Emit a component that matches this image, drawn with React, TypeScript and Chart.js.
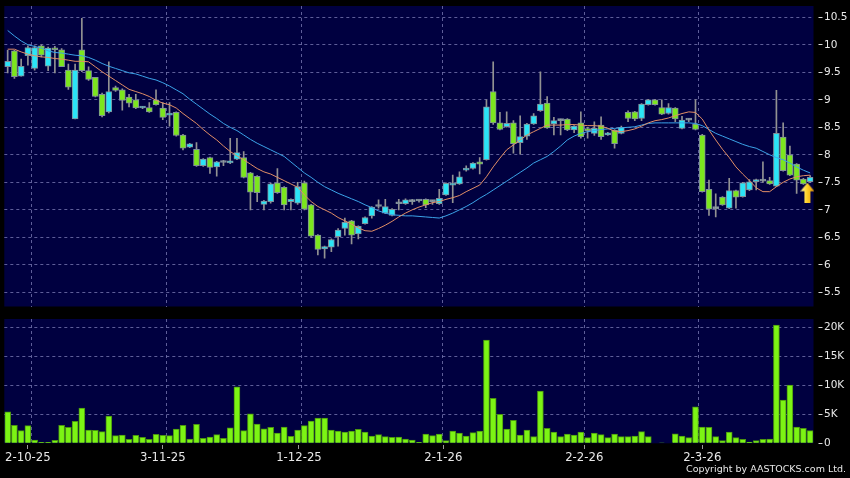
import React, { useEffect, useRef } from 'react';
import { Chart, registerables } from 'chart.js';

Chart.register(...registerables);

// ---------- data ----------
const opens = [
  9.60, 9.89, 9.43, 9.80, 9.57, 9.98, 9.61, 9.94, 9.91, 9.54,
  8.65, 9.91, 9.53, 9.41, 9.10, 8.78, 9.22, 9.18, 9.05, 9.00,
  8.85, 8.86, 9.00, 8.85, 8.72, 8.77, 8.36, 8.14, 8.10, 7.80,
  7.95, 7.78, 7.86, 7.85, 7.92, 7.95, 7.67, 7.61, 7.10, 7.15,
  7.49, 7.41, 7.15, 7.12, 7.49, 7.09, 6.54, 6.29, 6.32, 6.51,
  6.66, 6.80, 6.56, 6.75, 6.89, 7.06, 6.94, 6.90, 7.11, 7.11,
  7.15, 7.16, 7.19, 7.15, 7.11, 7.27, 7.45, 7.47, 7.72, 7.75,
  7.87, 7.91, 9.15, 8.58, 8.51, 8.58, 8.22, 8.34, 8.56, 8.80,
  8.94, 8.56, 8.62, 8.65, 8.45, 8.58, 8.46, 8.39, 8.54, 8.36,
  8.45, 8.39, 8.77, 8.78, 8.66, 8.91, 9.00, 8.86, 8.75, 8.85,
  8.48, 8.63, 8.56, 8.36, 7.37, 7.02, 7.23, 7.03, 7.35, 7.24,
  7.36, 7.51, 7.52, 7.53, 7.43, 8.32, 8.00, 7.83, 7.56, 7.51,
];
const closes = [
  9.70, 9.42, 9.61, 9.95, 9.95, 9.81, 9.94, 9.91, 9.60, 9.23,
  9.54, 9.53, 9.37, 9.06, 8.71, 9.15, 9.17, 8.99, 8.94, 8.85,
  8.87, 8.78, 8.91, 8.68, 8.74, 8.35, 8.12, 8.20, 7.80, 7.92,
  7.77, 7.87, 7.86, 7.89, 8.04, 7.59, 7.32, 7.31, 7.16, 7.47,
  7.31, 7.09, 7.19, 7.42, 7.01, 6.52, 6.28, 6.33, 6.46, 6.63,
  6.77, 6.54, 6.70, 6.86, 7.05, 7.06, 7.06, 7.01, 7.11, 7.18,
  7.15, 7.16, 7.09, 7.15, 7.21, 7.48, 7.47, 7.60, 7.75, 7.85,
  7.83, 8.87, 8.58, 8.46, 8.57, 8.20, 8.33, 8.56, 8.71, 8.92,
  8.49, 8.62, 8.62, 8.45, 8.52, 8.33, 8.44, 8.48, 8.33, 8.40,
  8.20, 8.50, 8.66, 8.65, 8.92, 9.00, 8.91, 8.74, 8.86, 8.65,
  8.63, 8.63, 8.46, 7.33, 7.01, 7.02, 7.09, 7.35, 7.23, 7.49,
  7.51, 7.55, 7.52, 7.47, 8.39, 7.71, 7.63, 7.54, 7.47, 7.59,
];
const highs = [
  9.90, 9.90, 9.74, 9.98, 9.98, 10.00, 9.96, 9.97, 9.93, 9.65,
  9.65, 10.48, 9.60, 9.41, 9.12, 9.69, 9.25, 9.20, 9.10, 9.10,
  8.88, 8.95, 9.18, 8.95, 8.95, 8.78, 8.37, 8.21, 8.22, 7.93,
  7.96, 7.88, 7.90, 8.30, 8.30, 8.06, 7.68, 7.62, 7.17, 7.48,
  7.75, 7.42, 7.20, 7.50, 7.52, 7.10, 6.55, 6.34, 6.47, 6.66,
  6.85, 6.81, 6.71, 6.87, 7.06, 7.18, 7.19, 7.02, 7.19, 7.20,
  7.19, 7.18, 7.20, 7.17, 7.37, 7.49, 7.63, 7.69, 7.80, 7.86,
  7.95, 9.00, 9.69, 8.77, 8.78, 8.62, 8.71, 8.57, 8.75, 9.51,
  9.06, 8.68, 8.65, 8.66, 8.53, 8.78, 8.50, 8.60, 8.69, 8.41,
  8.46, 8.52, 8.80, 8.79, 8.93, 9.01, 9.01, 9.00, 8.93, 8.86,
  8.70, 8.66, 9.00, 8.37, 7.54, 7.29, 7.24, 7.57, 7.36, 7.50,
  7.55, 7.56, 7.87, 7.59, 9.17, 8.58, 8.16, 7.84, 7.57, 7.62,
];
const lows = [
  9.49, 9.39, 9.43, 9.63, 9.54, 9.78, 9.53, 9.49, 9.60, 9.19,
  8.65, 9.51, 9.35, 9.05, 8.69, 8.76, 9.15, 8.81, 8.87, 8.84,
  8.84, 8.77, 8.90, 8.64, 8.52, 8.34, 8.09, 8.13, 7.79, 7.79,
  7.66, 7.61, 7.80, 7.84, 7.91, 7.58, 7.00, 7.15, 7.00, 7.12,
  7.30, 7.00, 7.00, 7.10, 7.00, 6.50, 6.18, 6.12, 6.24, 6.34,
  6.54, 6.38, 6.47, 6.74, 6.85, 7.03, 6.93, 6.89, 7.00, 7.10,
  7.10, 7.14, 7.04, 7.10, 7.10, 7.26, 7.13, 7.46, 7.70, 7.74,
  7.65, 7.90, 8.55, 8.45, 8.50, 8.03, 8.01, 8.28, 8.55, 8.79,
  8.48, 8.36, 8.36, 8.44, 8.40, 8.30, 8.30, 8.35, 8.28, 8.35,
  8.12, 8.38, 8.60, 8.62, 8.62, 8.90, 8.90, 8.73, 8.74, 8.60,
  8.47, 8.60, 8.45, 7.32, 6.90, 6.87, 7.08, 7.02, 7.03, 7.23,
  7.35, 7.36, 7.50, 7.46, 7.42, 7.70, 7.62, 7.30, 7.46, 7.50,
];
const volumes = [
  5400, 3100, 2170, 3030, 570, 170, 170, 520, 3100, 2750,
  3780, 6070, 2290, 2230, 2000, 4700, 1310, 1430, 690, 1380,
  1030, 690, 1550, 1380, 1310, 2460, 3100, 720, 3270, 860,
  1080, 1480, 860, 2680, 9740, 2170, 5090, 3320, 2510, 2750,
  1770, 2810, 1200, 2290, 3030, 3840, 4350, 4350, 2290, 2120,
  1940, 2120, 2410, 1940, 1260, 1480, 1140, 1030, 1080, 740,
  570, 170, 1600, 1310, 1600, 450, 2120, 1770, 1260, 1830,
  2120, 17770, 7740, 4990, 2460, 3960, 1430, 2290, 1140, 9000,
  2580, 1940, 1140, 1600, 1430, 1940, 980, 1770, 1480, 980,
  1600, 1140, 1140, 1260, 2000, 1140, 0, 100, 0, 1650,
  1260, 980, 6300, 2810, 2750, 1140, 450, 1940, 980, 690,
  230, 450, 690, 720, 20350, 7450, 10030, 2810, 2580, 2170,
];
const maShort = [
  9.92, 9.92, 9.87, 9.83, 9.80, 9.78, 9.77, 9.75, 9.74, 9.72,
  9.70, 9.70, 9.69, 9.60, 9.51, 9.43, 9.35, 9.27, 9.19, 9.15,
  9.11, 9.06, 8.99, 8.94, 8.91, 8.85, 8.75, 8.66, 8.57, 8.46,
  8.36, 8.27, 8.16, 8.06, 7.98, 7.91, 7.83, 7.75, 7.69, 7.65,
  7.59, 7.53, 7.47, 7.41, 7.27, 7.15, 7.06, 7.00, 6.94, 6.86,
  6.80, 6.74, 6.67, 6.62, 6.61, 6.66, 6.72, 6.79, 6.87, 6.94,
  7.00, 7.05, 7.09, 7.13, 7.15, 7.19, 7.22, 7.26, 7.33, 7.39,
  7.45, 7.60, 7.78, 7.94, 8.09, 8.18, 8.27, 8.36, 8.42, 8.48,
  8.54, 8.54, 8.54, 8.55, 8.55, 8.54, 8.53, 8.53, 8.52, 8.48,
  8.43, 8.42, 8.44, 8.47, 8.52, 8.58, 8.62, 8.64, 8.67, 8.71,
  8.75, 8.78, 8.77, 8.65, 8.45, 8.27, 8.10, 7.95, 7.78, 7.65,
  7.53, 7.40, 7.33, 7.33, 7.42, 7.50, 7.56, 7.60, 7.62, 7.63,
];
const maLong = [
  10.26, 10.16, 10.07, 10.00, 9.97, 9.94, 9.89, 9.86, 9.85, 9.83,
  9.81, 9.80, 9.77, 9.72, 9.66, 9.61, 9.57, 9.53, 9.49, 9.47,
  9.43, 9.39, 9.36, 9.31, 9.25, 9.18, 9.11, 9.01, 8.92, 8.83,
  8.74, 8.66, 8.57, 8.50, 8.44, 8.36, 8.28, 8.21, 8.15, 8.09,
  8.03, 7.97, 7.87, 7.77, 7.67, 7.59, 7.50, 7.42, 7.36, 7.30,
  7.25, 7.20, 7.15, 7.09, 7.04, 6.98, 6.94, 6.91, 6.90, 6.89,
  6.89, 6.88, 6.87, 6.86, 6.85, 6.89, 6.94, 7.00, 7.06, 7.13,
  7.21, 7.28, 7.36, 7.44, 7.52, 7.60, 7.68, 7.76, 7.85, 7.91,
  7.97, 8.06, 8.16, 8.27, 8.34, 8.39, 8.42, 8.44, 8.46, 8.47,
  8.48, 8.49, 8.50, 8.51, 8.54, 8.57, 8.58, 8.58, 8.58, 8.58,
  8.58, 8.58, 8.57, 8.53, 8.46, 8.39, 8.34, 8.29, 8.24, 8.19,
  8.15, 8.12, 8.06, 8.00, 7.95, 7.91, 7.85, 7.78, 7.72, 7.67,
];
const priceTicks = [5.5, 6, 6.5, 7, 7.5, 8, 8.5, 9, 9.5, 10, 10.5];
const volumeTicks = [0, 5000, 10000, 15000, 20000];
const dateLabels = ['2-10-25', '3-11-25', '1-12-25', '2-1-26', '2-2-26', '2-3-26'];
const dateLabelIdx = [3, 23, 43.2, 64.6, 85.5, 103];
const dateGridIdx = [3.5, 23.5, 43.5, 64.5, 85.5, 102.5];
const arrowMark = { index: 118.6, price: 7.31 };

// ---------- styles ----------
const NAVY = '#000040';
const GRID = 'rgba(118,118,175,0.8)';
const UP = '#2BE4F6';
const DOWN = '#7CE61E';
const FLAT = '#9aa4a8';
const BODY_BORDER = '#80909a';
const WICK = '#929292';
const VOL_FILL = '#7CF414';
const VOL_BORDER = '#4A9410';
const LINE_SHORT = '#E28E66';
const LINE_LONG = '#3BA3E8';
const TEXT = '#e8e8e8';
const FONT = 'DejaVu Sans';
const N = closes.length;

const bgPlugin = {
  id: 'panelBg',
  beforeDraw(chart: any) {
    const { ctx, chartArea: a } = chart;
    ctx.save();
    ctx.fillStyle = NAVY;
    ctx.fillRect(a.left, a.top, a.right - a.left, a.bottom - a.top);
    ctx.restore();
  },
};

function makeArrow(): HTMLCanvasElement {
  const c = document.createElement('canvas');
  c.width = 14;
  c.height = 20;
  const g = c.getContext('2d')!;
  const grad = g.createLinearGradient(0, 0, 14, 0);
  grad.addColorStop(0, '#FFF7A8');
  grad.addColorStop(0.45, '#FFD32A');
  grad.addColorStop(1, '#E59400');
  g.fillStyle = grad;
  g.beginPath();
  g.moveTo(7, 0);
  g.lineTo(14, 8.5);
  g.lineTo(10, 8.5);
  g.lineTo(10, 20);
  g.lineTo(4, 20);
  g.lineTo(4, 8.5);
  g.lineTo(0, 8.5);
  g.closePath();
  g.fill();
  return c;
}

const zeroPad = (s: any) => {
  s.paddingTop = 0;
  s.paddingBottom = 0;
  s.paddingLeft = 0;
  s.paddingRight = 0;
};

export default function App() {
  const priceRef = useRef<HTMLCanvasElement>(null);
  const volRef = useRef<HTMLCanvasElement>(null);

  useEffect(() => {
    document.body.style.margin = '0';
    document.body.style.background = '#000';
    const idx = closes.map((_, i) => i);
    const bodyColor = idx.map((i) =>
      closes[i] > opens[i] ? UP : closes[i] < opens[i] ? DOWN : FLAT
    );

    const gridAxis = (height: number) => ({
      type: 'linear' as const,
      min: -0.5,
      max: N - 0.5,
      offset: false,
      position: 'bottom' as const,
      afterBuildTicks: (s: any) => {
        s.ticks = dateGridIdx.map((v) => ({ value: v }));
      },
      afterFit: (s: any) => {
        s.height = height;
        zeroPad(s);
      },
      grid: { color: GRID, lineWidth: 1, drawTicks: false, offset: false },
      border: { display: false, dash: [3, 3] },
      ticks: { display: false },
    });

    const priceChart = new Chart(priceRef.current!, {
      type: 'bar',
      data: {
        datasets: [
          {
            type: 'scatter',
            data: [{ x: arrowMark.index, y: arrowMark.price }],
            pointStyle: makeArrow(),
            pointRadius: 10,
            order: 0,
            clip: false,
          } as any,
          {
            type: 'line',
            data: idx.map((i) => ({ x: i, y: maShort[i] })),
            borderColor: LINE_SHORT,
            borderWidth: 1,
            pointRadius: 0,
            tension: 0,
            order: 1,
          },
          {
            type: 'line',
            data: idx.map((i) => ({ x: i, y: maLong[i] })),
            borderColor: LINE_LONG,
            borderWidth: 1,
            pointRadius: 0,
            tension: 0,
            order: 1,
          },
          {
            type: 'bar',
            data: idx.map((i) => ({ x: i, y: [opens[i], closes[i]] })) as any,
            backgroundColor: bodyColor,
            borderColor: BODY_BORDER,
            borderWidth: 1,
            borderSkipped: false,
            barThickness: 6,
            minBarLength: 2,
            grouped: false,
            order: 2,
          } as any,
          {
            type: 'bar',
            data: idx.map((i) => ({ x: i, y: [lows[i], highs[i]] })) as any,
            backgroundColor: WICK,
            borderWidth: 0,
            barThickness: 1,
            grouped: false,
            order: 3,
          } as any,
        ],
      },
      options: {
        animation: false,
        responsive: false,
        events: [],
        layout: { padding: { left: 4.3, top: 6, right: 0, bottom: 3.5 }, autoPadding: false } as any,
        plugins: { legend: { display: false }, tooltip: { enabled: false } },
        scales: {
          x: gridAxis(0) as any,
          y: {
            type: 'linear',
            position: 'right',
            min: 5.242,
            max: 10.705,
            afterBuildTicks: (s: any) => {
              s.ticks = priceTicks.map((v) => ({ value: v }));
            },
            afterFit: (s: any) => {
              s.width = 36.5;
              zeroPad(s);
            },
            grid: {
              color: GRID,
              lineWidth: 1,
              drawTicks: true,
              tickLength: 9,
              tickColor: '#d8d8d8',
              tickWidth: 1,
              tickBorderDash: [0, 4.5, 4.5, 60],
            },
            border: { display: false, dash: [3, 3] },
            ticks: {
              color: TEXT,
              font: { family: FONT, size: 10.5 },
              padding: 1.5,
              callback: (v: any) => String(v),
            },
          } as any,
        },
      },
      plugins: [bgPlugin],
    });

    const volChart = new Chart(volRef.current!, {
      type: 'bar',
      data: {
        datasets: [
          {
            data: idx.map((i) => ({ x: i, y: volumes[i] })) as any,
            backgroundColor: VOL_FILL,
            borderColor: VOL_BORDER,
            borderWidth: 1,
            barThickness: 6,
          },
        ],
      },
      options: {
        animation: false,
        responsive: false,
        events: [],
        layout: { padding: { left: 4.3, top: 9, right: 0, bottom: 0 }, autoPadding: false } as any,
        plugins: { legend: { display: false }, tooltip: { enabled: false } },
        scales: {
          x: {
            type: 'linear',
            min: -0.5,
            max: N - 0.5,
            offset: false,
            position: 'bottom',
            afterBuildTicks: (s: any) => {
              s.ticks = dateLabelIdx.map((v) => ({ value: v }));
            },
            afterFit: (s: any) => {
              s.height = 34.7;
              zeroPad(s);
            },
            grid: {
              offset: false,
              drawOnChartArea: false,
              drawTicks: true,
              tickLength: 6,
              tickColor: '#9a9a9a',
              tickWidth: 1,
              tickBorderDash: [0, 2, 4, 40],
            },
            border: { display: false },
            ticks: {
              color: TEXT,
              font: { family: FONT, size: 11.7 },
              padding: 2,
              maxRotation: 0,
              autoSkip: false,
              callback: (_v: any, i: number) => dateLabels[i],
            },
          } as any,
          xg: gridAxis(0) as any,
          y: {
            type: 'linear',
            position: 'right',
            min: 0,
            max: 21400,
            afterBuildTicks: (s: any) => {
              s.ticks = volumeTicks.map((v) => ({ value: v }));
            },
            afterFit: (s: any) => {
              s.width = 36.5;
              zeroPad(s);
            },
            grid: {
              color: (c: any) => (c.tick && c.tick.value === 0 ? 'rgba(0,0,0,0)' : GRID),
              lineWidth: 1,
              drawTicks: true,
              tickLength: 9,
              tickColor: '#d8d8d8',
              tickWidth: 1,
              tickBorderDash: [0, 4.5, 4.5, 60],
            },
            border: { display: false, dash: [3, 3] },
            ticks: {
              color: TEXT,
              font: { family: FONT, size: 10.5 },
              padding: 1.5,
              callback: (v: any) => (v === 0 ? '0' : `${v / 1000}K`),
            },
          } as any,
        },
      },
      plugins: [bgPlugin],
    });

    return () => {
      priceChart.destroy();
      volChart.destroy();
    };
  }, []);

  return (
    <div style={{ position: 'relative', width: 850, height: 478, background: '#000', overflow: 'hidden' }}>
      <canvas ref={priceRef} width={850} height={310} style={{ position: 'absolute', left: 0, top: 0 }} />
      <canvas ref={volRef} width={850} height={168} style={{ position: 'absolute', left: 0, top: 310 }} />
      <div
        style={{
          position: 'absolute',
          right: 4,
          top: 463,
          font: `9.5px "${FONT}"`,
          lineHeight: '12px',
          color: TEXT,
          whiteSpace: 'nowrap',
        }}
      >
        Copyright by AASTOCKS.com Ltd.
      </div>
    </div>
  );
}
